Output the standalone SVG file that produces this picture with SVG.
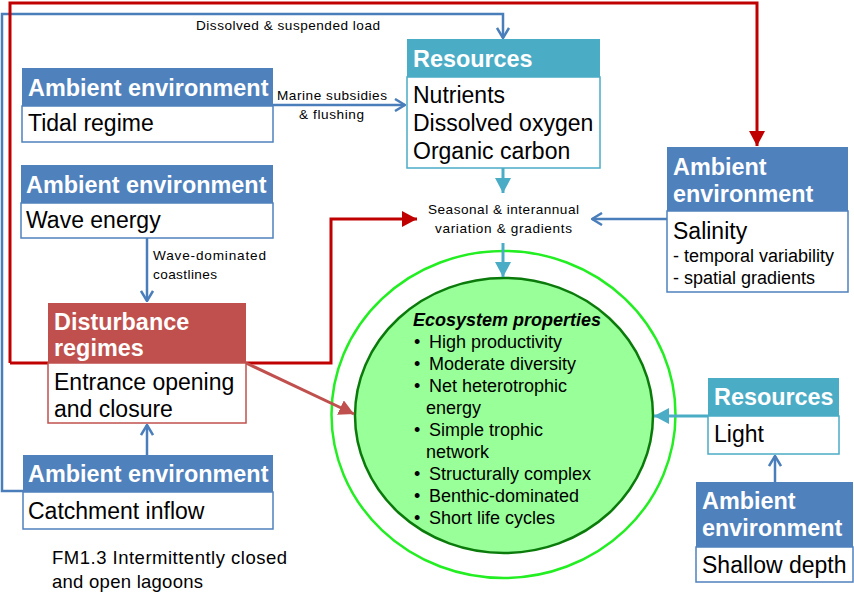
<svg xmlns="http://www.w3.org/2000/svg" width="854" height="608" viewBox="0 0 854 608">
<style>
text{font-family:"Liberation Sans",Arial,sans-serif;}
.hb{fill:#4f81bd;}
.hr{fill:#4bacc6;}
.hd{fill:#c0504d;}
.bb{fill:#fff;stroke:#4f81bd;stroke-width:1.5;}
.br{fill:#fff;stroke:#4bacc6;stroke-width:1.5;}
.bd{fill:#fff;stroke:#c0504d;stroke-width:1.5;}
.ht{font-size:23.4px;font-weight:bold;fill:#fff;}
.bt{font-size:23px;fill:#000;}
.st{font-size:18px;fill:#000;}
.lb{font-size:13.6px;fill:#000;}
.blue{fill:none;stroke:#4a7ebb;stroke-width:2.5;}
.red{fill:none;stroke:#c00000;stroke-width:3;}
.teal{fill:none;stroke:#4bacc6;stroke-width:3;}
.dred{fill:none;stroke:#c0504d;stroke-width:3;}
.et{font-size:18px;fill:#000;}
</style>
<defs>
<marker id="chev" viewBox="0 0 12 14" refX="11" refY="7" markerWidth="12" markerHeight="14" markerUnits="userSpaceOnUse" orient="auto"><path d="M1,1 L11,7 L1,13" fill="none" stroke="#4a7ebb" stroke-width="2.5"/></marker>
<marker id="tred" viewBox="0 0 15 16" refX="15" refY="8" markerWidth="15" markerHeight="16" markerUnits="userSpaceOnUse" orient="auto"><path d="M0,0 L15,8 L0,16 z" fill="#c00000"/></marker>
<marker id="tdred" viewBox="0 0 15 16" refX="15" refY="8" markerWidth="15" markerHeight="16" markerUnits="userSpaceOnUse" orient="auto"><path d="M0,0 L15,8 L0,16 z" fill="#c0504d"/></marker>
<marker id="tteal" viewBox="0 0 15 16" refX="15" refY="8" markerWidth="15" markerHeight="16" markerUnits="userSpaceOnUse" orient="auto"><path d="M0,0 L15,8 L0,16 z" fill="#4bacc6"/></marker>
</defs>
<rect width="854" height="608" fill="#fff"/>

<g id="ecosystem">
<ellipse cx="503.5" cy="414.5" rx="172" ry="163.5" fill="#fff" stroke="#22ee22" stroke-width="2.5"/>
<ellipse cx="504" cy="415.5" rx="149" ry="137.5" fill="#99ff99" stroke="#0a7a0a" stroke-width="2.5"/>
<text x="413" y="326" class="et" font-weight="bold" font-style="italic">Ecosystem properties</text>
<g class="et">
<text x="414" y="348">•</text><text x="429" y="348">High productivity</text>
<text x="414" y="370">•</text><text x="429" y="370">Moderate diversity</text>
<text x="414" y="392">•</text><text x="429" y="392">Net heterotrophic</text>
<text x="426" y="414">energy</text>
<text x="414" y="436">•</text><text x="429" y="436">Simple trophic</text>
<text x="426" y="458">network</text>
<text x="414" y="480">•</text><text x="429" y="480">Structurally complex</text>
<text x="414" y="502">•</text><text x="429" y="502">Benthic-dominated</text>
<text x="414" y="524">•</text><text x="429" y="524">Short life cycles</text>
</g>
</g>

<g id="connectors">
<path class="blue" d="M23,491 L2,491 L2,14 L503,14 L503,38" marker-end="url(#chev)"/>
<path class="red" d="M10,363 L10,3 L757,3 L757,146" marker-end="url(#tred)"/>
<path class="red" d="M10,363 L331,363 L331,219 L417,219" marker-end="url(#tred)"/>
<path class="blue" d="M273,105 L405,105" marker-end="url(#chev)"/>
<path class="blue" d="M147,238 L147,301" marker-end="url(#chev)"/>
<path class="blue" d="M147,455 L147,425" marker-end="url(#chev)"/>
<path class="teal" d="M503,168 L503,193" marker-end="url(#tteal)"/>
<path class="teal" d="M503,243 L503,277" marker-end="url(#tteal)"/>
<path class="blue" d="M667,219 L592,219" marker-end="url(#chev)"/>
<path class="dred" d="M246,363 L354,414" marker-end="url(#tdred)"/>
<path class="teal" d="M708,416 L654,416" marker-end="url(#tteal)"/>
<path class="blue" d="M775,482 L775,456" marker-end="url(#chev)"/>
<text x="196" y="30" class="lb" textLength="184">Dissolved &amp; suspended load</text>
<text x="277" y="100" class="lb" textLength="110">Marine subsidies</text>
<text x="299" y="119" class="lb" textLength="65">&amp; flushing</text>
<text x="153" y="260" class="lb" textLength="113">Wave-dominated</text>
<text x="153" y="279" class="lb" textLength="64">coastlines</text>
<text x="428" y="214" class="lb" textLength="151">Seasonal &amp; interannual</text>
<text x="435" y="233" class="lb" textLength="137">variation &amp; gradients</text>
</g>

<g id="tidal">
<rect x="22" y="106" width="251" height="36" class="bb"/>
<rect x="22" y="68" width="251" height="38" class="hb"/>
<text x="28" y="96" class="ht">Ambient environment</text>
<text x="28" y="131" class="bt">Tidal regime</text>
</g>

<g id="wave">
<rect x="21" y="203" width="252" height="35" class="bb"/>
<rect x="21" y="165" width="252" height="38" class="hb"/>
<text x="26" y="193" class="ht">Ambient environment</text>
<text x="26" y="228" class="bt">Wave energy</text>
</g>

<g id="disturbance">
<rect x="48" y="363" width="198" height="60" class="bd"/>
<rect x="48" y="303" width="198" height="60" class="hd"/>
<text x="54" y="330" class="ht">Disturbance</text>
<text x="54" y="356" class="ht">regimes</text>
<text x="54" y="390" class="bt">Entrance opening</text>
<text x="54" y="417" class="bt">and closure</text>
</g>

<g id="catchment">
<rect x="23" y="492" width="250" height="37" class="bb"/>
<rect x="23" y="455" width="250" height="37" class="hb"/>
<text x="28" y="482" class="ht">Ambient environment</text>
<text x="28" y="519" class="bt">Catchment inflow</text>
</g>

<g id="resources-top">
<rect x="407" y="77" width="193" height="91" class="br"/>
<rect x="407" y="39" width="193" height="38" class="hr"/>
<text x="413" y="67" class="ht">Resources</text>
<text x="413" y="103" class="bt">Nutrients</text>
<text x="413" y="131" class="bt">Dissolved oxygen</text>
<text x="413" y="159" class="bt">Organic carbon</text>
</g>

<g id="salinity">
<rect x="667" y="211" width="181" height="81" class="bb"/>
<rect x="667" y="147" width="181" height="64" class="hb"/>
<text x="673" y="175" class="ht">Ambient</text>
<text x="673" y="202" class="ht">environment</text>
<text x="673" y="239" class="bt">Salinity</text>
<text x="673" y="262" class="st">- temporal variability</text>
<text x="673" y="284" class="st">- spatial gradients</text>
</g>

<g id="resources-light">
<rect x="708" y="416" width="131" height="38" class="br"/>
<rect x="708" y="378" width="131" height="38" class="hr"/>
<text x="714" y="405" class="ht">Resources</text>
<text x="714" y="442" class="bt">Light</text>
</g>

<g id="shallow">
<rect x="696" y="547" width="157" height="35" class="bb"/>
<rect x="696" y="482" width="157" height="65" class="hb"/>
<text x="702" y="509" class="ht">Ambient</text>
<text x="702" y="536" class="ht">environment</text>
<text x="702" y="573" class="bt">Shallow depth</text>
</g>

<g id="caption">
<text x="52" y="564" font-size="18.5" textLength="235">FM1.3 Intermittently closed</text>
<text x="52" y="588" font-size="18.5" textLength="151">and open lagoons</text>
</g>
</svg>
